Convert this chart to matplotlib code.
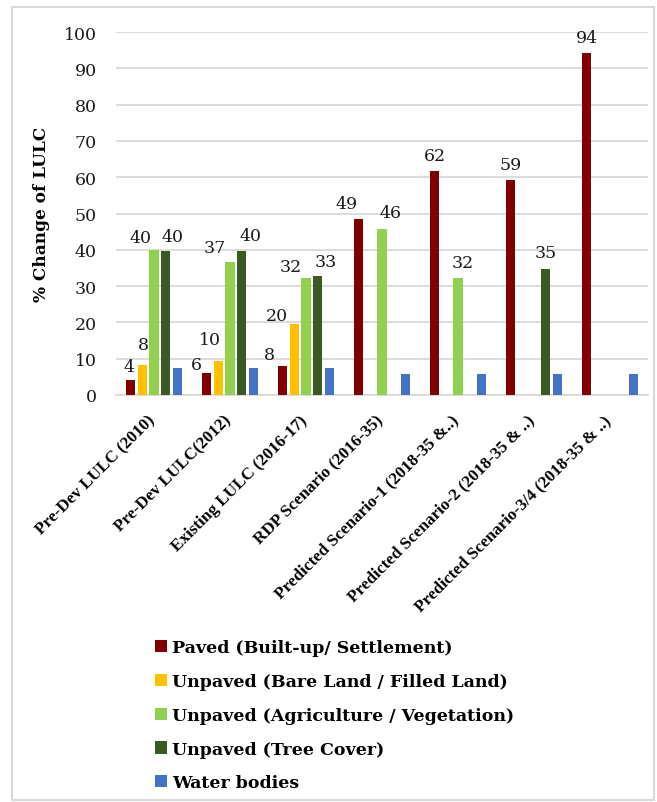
import numpy as np
import matplotlib.pyplot as plt
from matplotlib.patches import Rectangle
from matplotlib.transforms import ScaledTranslation

# categories and series
categories = ['Pre-Dev LULC (2010)', 'Pre-Dev LULC(2012)', 'Existing LULC (2016-17)',
              'RDP Scenario (2016-35)', 'Predicted Scenario-1 (2018-35 &..)',
              'Predicted Scenario-2 (2018-35 & ..)', 'Predicted Scenario-3/4 (2018-35 & ..)']

paved = [4.1, 6.1, 7.9, 48.6, 61.6, 59.2, 94.1]
bare = [8.3, 9.5, 19.6, 0, 0, 0, 0]
agri = [40.0, 36.6, 32.1, 45.6, 32.1, 0, 0]
tree = [39.6, 39.6, 32.9, 0, 0, 34.6, 0]
water = [7.4, 7.4, 7.4, 5.8, 5.8, 5.8, 5.8]

series_names = ['Paved (Built-up/ Settlement)', 'Unpaved (Bare Land / Filled Land)',
                'Unpaved (Agriculture / Vegetation)', 'Unpaved (Tree Cover)', 'Water bodies']
colors = ['#800000', '#ffc000', '#92d050', '#3a5a24', '#4472c4']
show_labels = [True, True, True, True, False]

# data labels were nudged by hand in the original; (dx, dy) in pixels
label_nudge = {
    (0, 0): (-2, -2), (1, 0): (1, 5), (2, 0): (-14, -3), (3, 0): (7, -1),
    (0, 1): (-10, -7), (1, 1): (-8, 6), (2, 1): (-15, -1), (3, 1): (9, 0),
    (0, 2): (-13, -4), (1, 2): (-17, -7), (2, 2): (-15, -4), (3, 2): (8, -1),
    (0, 3): (-12, 0), (2, 3): (9, 1), (2, 4): (5, 0), (3, 5): (0, 1),
}

W, H = 657, 803
num_font = 'DejaVu Serif'
txt_font = 'Liberation Serif'
bold_font = 'DejaVu Serif'

fig = plt.figure(figsize=(W / 100, H / 100), dpi=100)
ax = fig.add_axes([116 / W, 1 - 396 / H, 532 / W, 363 / H])

x = np.arange(len(categories))
step = 0.1546
width = 0.122
all_series = [paved, bare, agri, tree, water]

for s, vals in enumerate(all_series):
    pos = x + (s - 2) * step
    bars = ax.bar(pos, vals, width, color=colors[s], label=series_names[s], zorder=3)
    if not show_labels[s]:
        continue
    for c, (b, v) in enumerate(zip(bars, vals)):
        if v <= 0:
            continue
        dx, dy = label_nudge.get((s, c), (0, 0))
        ax.annotate(f'{round(v):d}', (b.get_x() + b.get_width() / 2, v),
                    xytext=(dx * 0.72, (11 + dy) * 0.72), textcoords='offset points',
                    ha='center', va='baseline', fontsize=12.5, family=num_font,
                    color='#1a1a1a')

ax.set_xlim(-0.5, len(categories) - 0.5)
ax.set_ylim(0, 100)
ax.set_yticks(np.arange(0, 101, 10))
for lab in ax.get_yticklabels():
    lab.set_family(num_font)
    lab.set_fontsize(12.5)
ax.tick_params(axis='y', length=0, pad=14, colors='#1a1a1a')
ax.yaxis.grid(True, color='#d9d9d9', lw=1.3)
ax.set_axisbelow(True)
for sp in ['top', 'right', 'left']:
    ax.spines[sp].set_visible(False)
ax.spines['bottom'].set_color('#d9d9d9')
ax.spines['bottom'].set_linewidth(1.3)

ax.set_ylabel('% Change of LULC', family=bold_font, fontweight='bold', fontsize=12.2)
ax.yaxis.set_label_coords(-0.124, 0.5)

ax.set_xticks(x)
ax.set_xticklabels(categories, rotation=45, ha='right', va='top',
                   rotation_mode='anchor', family=txt_font, fontweight='bold',
                   fontsize=12.3)
ax.tick_params(axis='x', length=0, pad=12)
nudge_left = ScaledTranslation(-0.07, 0, fig.dpi_scale_trans)
for lab in ax.get_xticklabels():
    lab.set_transform(lab.get_transform() + nudge_left)

leg = fig.legend(loc='upper left', bbox_to_anchor=(155 / W, 1 - 640 / H),
                 frameon=False, prop={'family': bold_font, 'weight': 'bold', 'size': 12.5},
                 handlelength=0.7, handleheight=0.7, handletextpad=0.3,
                 labelspacing=0.97, borderpad=0, borderaxespad=0)

fig.patches.append(Rectangle((12 / W, 2 / H), (654 - 12) / W, (H - 10) / H,
                             transform=fig.transFigure, fill=False,
                             edgecolor='#d9d9d9', lw=1.5))

fig.savefig('out.png', dpi=100)
